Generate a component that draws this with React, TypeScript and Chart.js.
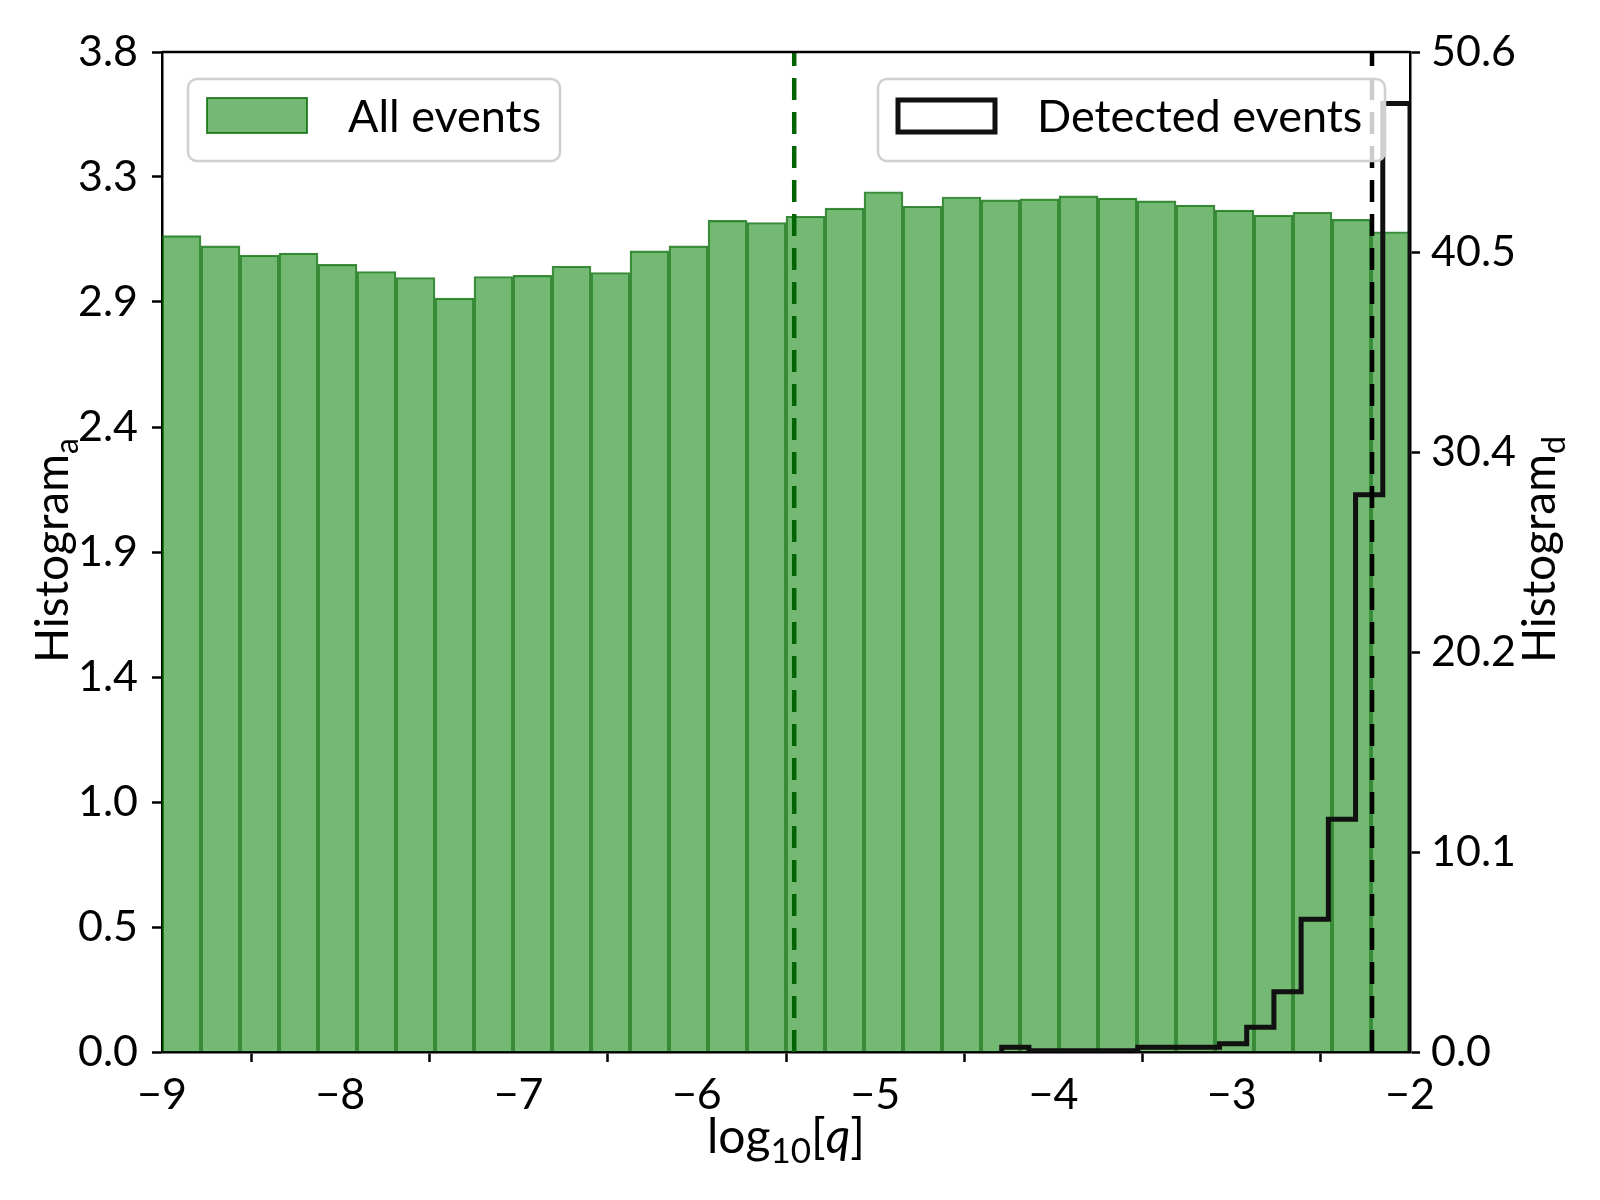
import React, { useEffect, useRef } from 'react';
import Chart from 'chart.js/auto';

// histogram of all events: 32 equal bins between -9 and -2 (left axis)
const ALL_RANGE = [-9, -2];
const allEvents = [
  3.102, 3.063, 3.028, 3.036, 2.993, 2.966, 2.943, 2.865, 2.947, 2.951, 2.986,
  2.962, 3.044, 3.063, 3.160, 3.152, 3.176, 3.207, 3.269, 3.214, 3.249, 3.238,
  3.242, 3.253, 3.245, 3.234, 3.218, 3.199, 3.180, 3.191, 3.164, 3.117,
];

// histogram of detected events: 15 equal bins between -4.29 and -2 (right axis)
const DET_RANGE = [-4.29, -2];
const detectedEvents = [
  0.24, 0.06, 0.06, 0.06, 0.06, 0.24, 0.24, 0.24, 0.42, 1.25, 3.05, 6.72, 11.78,
  28.2, 48.0,
];

// vertical reference lines
const allEventsMarker = -5.454;
const detectedMarker = -2.213;

const xTicks = [-9, -8, -7, -6, -5, -4, -3, -2];
const leftMax = 3.8;
const leftTicks = [0, 0.475, 0.95, 1.425, 1.9, 2.375, 2.85, 3.325, 3.8];
const rightMax = 50.6;
const rightTicks = [0, 10.12, 20.24, 30.36, 40.48, 50.6];

const FONT = 'Lato, "DejaVu Sans", sans-serif';
const GREEN_FILL = 'rgba(0,128,0,0.55)';
const GREEN_EDGE = 'rgba(0,100,0,0.75)';

function fmt1(v: number) {
  return (Math.round(v * 10) / 10).toFixed(1);
}

type Part = { t: string; size: number; italic?: boolean; dy?: number };

function partsWidth(ctx: CanvasRenderingContext2D, parts: Part[]) {
  let w = 0;
  for (const p of parts) {
    ctx.font = `${p.italic ? 'italic ' : ''}${p.size}px ${FONT}`;
    w += ctx.measureText(p.t).width;
  }
  return w;
}

function drawParts(ctx: CanvasRenderingContext2D, parts: Part[], x: number, y: number) {
  ctx.textAlign = 'left';
  ctx.textBaseline = 'alphabetic';
  let cx = x;
  for (const p of parts) {
    ctx.font = `${p.italic ? 'italic ' : ''}${p.size}px ${FONT}`;
    ctx.fillText(p.t, cx, y + (p.dy || 0));
    cx += ctx.measureText(p.t).width;
  }
}

const overlay = {
  id: 'overlay',
  afterDraw(chart: any) {
    const { ctx, chartArea } = chart;
    ctx.save();

    // top spine
    ctx.strokeStyle = '#000';
    ctx.lineWidth = 2.5;
    ctx.beginPath();
    ctx.moveTo(chartArea.left, chartArea.top);
    ctx.lineTo(chartArea.right, chartArea.top);
    ctx.stroke();

    // legends
    const box = (x: number, y: number, w: number, h: number) => {
      ctx.beginPath();
      ctx.roundRect(x, y, w, h, 9);
      ctx.fillStyle = 'rgba(255,255,255,0.8)';
      ctx.fill();
      ctx.strokeStyle = '#d0d0d0';
      ctx.lineWidth = 2.5;
      ctx.stroke();
    };
    box(188, 79, 372, 82);
    ctx.fillStyle = GREEN_FILL;
    ctx.fillRect(207, 98, 100, 35);
    ctx.strokeStyle = GREEN_EDGE;
    ctx.lineWidth = 2;
    ctx.strokeRect(207, 98, 100, 35);
    ctx.fillStyle = '#000';
    drawParts(ctx, [{ t: 'All events', size: 45 }], 348, 132);

    box(878, 79, 507, 82);
    ctx.strokeStyle = '#111';
    ctx.lineWidth = 5;
    ctx.strokeRect(898, 100, 97, 32);
    ctx.fillStyle = '#000';
    drawParts(ctx, [{ t: 'Detected events', size: 45 }], 1037, 132);

    // axis titles
    const xt: Part[] = [
      { t: 'log', size: 48 },
      { t: '10', size: 35, dy: 10 },
      { t: '[', size: 48 },
      { t: 'q', size: 48, italic: true },
      { t: ']', size: 48 },
    ];
    const xw = partsWidth(ctx, xt);
    drawParts(ctx, xt, (chartArea.left + chartArea.right) / 2 - xw / 2, 1153);

    const yl: Part[] = [
      { t: 'Histogram', size: 46 },
      { t: 'a', size: 32, dy: 10 },
    ];
    ctx.save();
    ctx.translate(68, 663);
    ctx.rotate(-Math.PI / 2);
    drawParts(ctx, yl, 0, 0);
    ctx.restore();

    const yr: Part[] = [
      { t: 'Histogram', size: 46 },
      { t: 'd', size: 32, dy: 10 },
    ];
    ctx.save();
    ctx.translate(1555, 663);
    ctx.rotate(-Math.PI / 2);
    drawParts(ctx, yr, 0, 0);
    ctx.restore();

    ctx.restore();
  },
};

export default function App() {
  const canvasRef = useRef<HTMLCanvasElement>(null);

  useEffect(() => {
    if (!canvasRef.current) return;
    const ctx = canvasRef.current.getContext('2d');
    if (!ctx) return;

    const allW = (ALL_RANGE[1] - ALL_RANGE[0]) / allEvents.length;
    const barData = allEvents.map((v, i) => ({ x: ALL_RANGE[0] + (i + 0.5) * allW, y: v }));

    // step outline: each point sits at a bin's right edge; 'after' rises at the left edge first
    const detW = (DET_RANGE[1] - DET_RANGE[0]) / detectedEvents.length;
    const stepData = [{ x: DET_RANGE[0], y: 0 }];
    detectedEvents.forEach((v, i) => stepData.push({ x: DET_RANGE[0] + (i + 1) * detW, y: v }));
    stepData.push({ x: DET_RANGE[1], y: 0 });

    const tickFont = { family: FONT, size: 43 };
    const grid = {
      display: true,
      drawOnChartArea: false,
      drawTicks: true,
      tickLength: 10,
      tickWidth: 2.5,
      tickColor: '#000',
    };
    const border = { display: true, color: '#000', width: 2.5 };

    const chart = new Chart(ctx, {
      type: 'bar',
      data: {
        datasets: [
          {
            type: 'line',
            data: [
              { x: detectedMarker, y: 0 },
              { x: detectedMarker, y: leftMax },
            ],
            borderColor: '#000',
            borderWidth: 4.5,
            borderDash: [22, 12],
            pointRadius: 0,
            yAxisID: 'y',
            order: 1,
          },
          {
            type: 'line',
            data: [
              { x: allEventsMarker, y: 0 },
              { x: allEventsMarker, y: leftMax },
            ],
            borderColor: '#006400',
            borderWidth: 4.5,
            borderDash: [22, 12],
            pointRadius: 0,
            yAxisID: 'y',
            order: 1,
          },
          {
            type: 'line',
            label: 'Detected events',
            data: stepData,
            stepped: 'after',
            borderColor: '#111',
            borderWidth: 5,
            pointRadius: 0,
            fill: false,
            yAxisID: 'y2',
            order: 2,
          },
          {
            type: 'bar',
            label: 'All events',
            data: barData,
            backgroundColor: GREEN_FILL,
            borderColor: GREEN_EDGE,
            borderWidth: 1.5,
            barPercentage: 1,
            categoryPercentage: 1,
            grouped: false,
            yAxisID: 'y',
            order: 3,
          },
        ],
      },
      options: {
        animation: false,
        responsive: false,
        devicePixelRatio: 1,
        layout: { padding: { top: 52, left: 0, right: 0, bottom: 0 } },
        plugins: { legend: { display: false }, tooltip: { enabled: false } },
        scales: {
          x: {
            type: 'linear',
            min: ALL_RANGE[0],
            max: ALL_RANGE[1],
            offset: false,
            afterBuildTicks: (s: any) => {
              s.ticks = xTicks.map((v) => ({ value: v }));
            },
            afterFit: (s: any) => {
              s.height = 148;
            },
            ticks: {
              font: tickFont,
              color: '#000',
              padding: 7,
              maxRotation: 0,
              callback: (v: any) => (v < 0 ? '\u2212' + Math.abs(v) : String(v)),
            },
            grid,
            border,
          },
          y: {
            type: 'linear',
            position: 'left',
            min: 0,
            max: leftMax,
            afterBuildTicks: (s: any) => {
              s.ticks = leftTicks.map((v) => ({ value: v }));
            },
            afterFit: (s: any) => {
              s.width = 162;
            },
            ticks: { font: tickFont, color: '#000', padding: 14, callback: (v: any) => fmt1(v) },
            grid,
            border,
          },
          y2: {
            type: 'linear',
            position: 'right',
            min: 0,
            max: rightMax,
            afterBuildTicks: (s: any) => {
              s.ticks = rightTicks.map((v) => ({ value: v }));
            },
            afterFit: (s: any) => {
              s.width = 190;
            },
            ticks: { font: tickFont, color: '#000', padding: 11, callback: (v: any) => fmt1(v) },
            grid,
            border,
          },
        },
      },
      plugins: [overlay],
    } as any);

    return () => chart.destroy();
  }, []);

  return (
    <div style={{ position: 'absolute', left: 0, top: 0, width: 1600, height: 1200, background: '#fff' }}>
      <canvas ref={canvasRef} width={1600} height={1200} style={{ width: 1600, height: 1200 }} />
    </div>
  );
}
